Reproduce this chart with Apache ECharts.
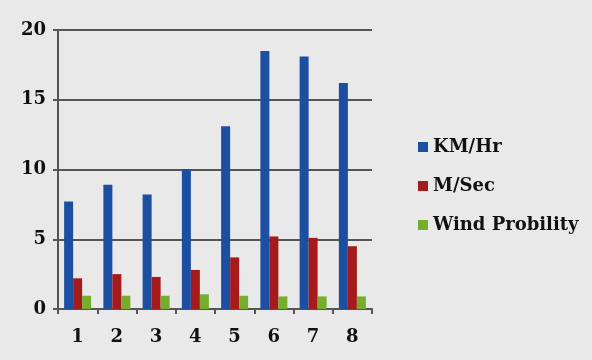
<!DOCTYPE html>
<html><head><meta charset="utf-8">
<script src="https://cdn.jsdelivr.net/npm/echarts@6/dist/echarts.min.js"></script>
<style>html,body{margin:0;padding:0;background:#e9e9e9;}#c{width:592px;height:360px;}</style>
</head><body><div id="c"></div>
<script>
const categories = ['1','2','3','4','5','6','7','8'];
const kmHr = [7.7, 8.9, 8.2, 10.0, 13.1, 18.5, 18.1, 16.2];
const mSec = [2.2, 2.5, 2.3, 2.8, 3.7, 5.2, 5.1, 4.5];
const windProb = [0.95, 0.95, 0.95, 1.05, 0.95, 0.9, 0.9, 0.9];
const seriesNames = ['KM/Hr', 'M/Sec', 'Wind Probility'];
const colors = ['#1c4ea2', '#a51a1a', '#76ad2c'];

const font = 'DejaVu Serif';
const chart = echarts.init(document.getElementById('c'));
chart.setOption({
  backgroundColor: '#e9e9e9',
  animation: false,
  color: colors,
  grid: {left: 58, right: 220, top: 30, bottom: 51},
  legend: {
    orient: 'vertical', left: 413, top: 133, itemGap: 21,
    itemWidth: 10, itemHeight: 10, icon: 'rect',
    textStyle: {fontFamily: font, fontWeight: 'bold', fontSize: 18, color: '#111'}
  },
  xAxis: {
    type: 'category', data: categories,
    axisLine: {lineStyle: {color: '#555', width: 2}},
    axisTick: {show: true, length: 5, lineStyle: {color: '#555', width: 2}},
    axisLabel: {fontFamily: font, fontWeight: 'bold', fontSize: 18, color: '#111', margin: 19}
  },
  yAxis: {
    type: 'value', min: 0, max: 20, interval: 5,
    axisLine: {show: true, lineStyle: {color: '#555', width: 2}},
    axisTick: {show: true, length: 5, lineStyle: {color: '#555', width: 2}},
    splitLine: {lineStyle: {color: '#555', width: 2}},
    axisLabel: {fontFamily: font, fontWeight: 'bold', fontSize: 18, color: '#111', margin: 12}
  },
  series: [
    {name: seriesNames[0], type: 'bar', data: kmHr, barWidth: 9, barGap: '0%'},
    {name: seriesNames[1], type: 'bar', data: mSec, barWidth: 9, barGap: '0%'},
    {name: seriesNames[2], type: 'bar', data: windProb, barWidth: 9, barGap: '0%'}
  ]
});
</script></body></html>
